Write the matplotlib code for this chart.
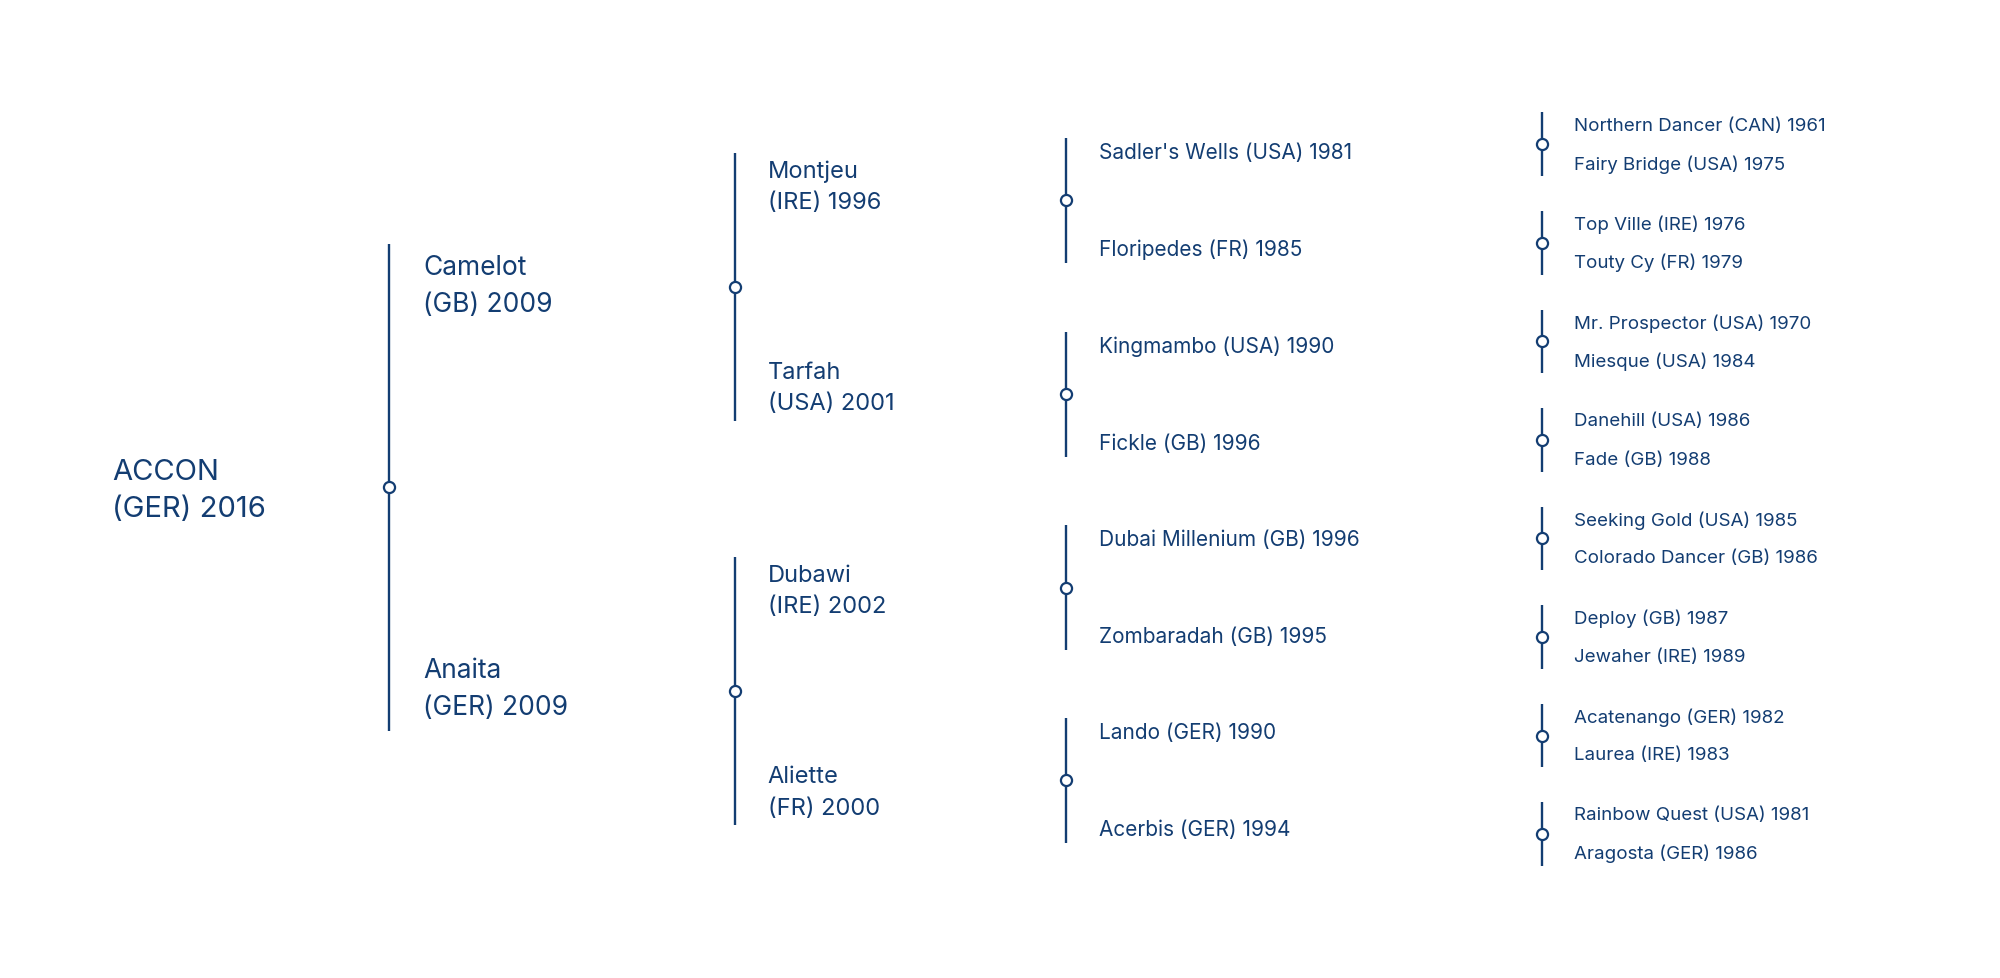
import matplotlib.pyplot as plt

plt.rcParams['font.family'] = ['Inter', 'DejaVu Sans']

NAVY = "#133d72"

# pedigree data, generation by generation
foal = "ACCON\n(GER) 2016"
parents = ["Camelot\n(GB) 2009", "Anaita\n(GER) 2009"]
grandparents = ["Montjeu\n(IRE) 1996", "Tarfah\n(USA) 2001",
                "Dubawi\n(IRE) 2002", "Aliette\n(FR) 2000"]
great_grandparents = ["Sadler's Wells (USA) 1981", "Floripedes (FR) 1985",
                      "Kingmambo (USA) 1990", "Fickle (GB) 1996",
                      "Dubai Millenium (GB) 1996", "Zombaradah (GB) 1995",
                      "Lando (GER) 1990", "Acerbis (GER) 1994"]
great_great_grandparents = ["Northern Dancer (CAN) 1961", "Fairy Bridge (USA) 1975",
                            "Top Ville (IRE) 1976", "Touty Cy (FR) 1979",
                            "Mr. Prospector (USA) 1970", "Miesque (USA) 1984",
                            "Danehill (USA) 1986", "Fade (GB) 1988",
                            "Seeking Gold (USA) 1985", "Colorado Dancer (GB) 1986",
                            "Deploy (GB) 1987", "Jewaher (IRE) 1989",
                            "Acatenango (GER) 1982", "Laurea (IRE) 1983",
                            "Rainbow Quest (USA) 1981", "Aragosta (GER) 1986"]

W, H = 1568, 768
fig = plt.figure(figsize=(20, 9.79), dpi=100)
ax = fig.add_axes([0, 0, 1, 1])
ax.set_xlim(0, W)
ax.set_ylim(H, 0)
ax.axis("off")


def bracket(x, center, half, names, text_x, size, offset):
    ax.plot([x, x], [center - half, center + half], color=NAVY, lw=1.7, solid_capstyle="butt", zorder=1)
    ax.plot([x], [center], "o", ms=8, mfc="white", mec=NAVY, mew=1.6, zorder=2)
    for name, y in zip(names, (center - offset, center + offset)):
        ax.text(text_x, y, name, color=NAVY, fontsize=size, va="center", ha="left",
                linespacing=1.55)


ax.text(88, 385, foal, color=NAVY, fontsize=21, va="center", ha="left", linespacing=1.5)

bracket(305, 383, 191, parents, 332, 19, 158)

for i, c in enumerate([226, 543]):
    bracket(576, c, 105, grandparents[2 * i:2 * i + 2], 602, 17, 79)

for i, c in enumerate([158, 310, 462, 613]):
    bracket(836, c, 49, great_grandparents[2 * i:2 * i + 2], 862, 15, 38)

for i in range(8):
    c = 114 + i * 77.3
    bracket(1209, c, 25, great_great_grandparents[2 * i:2 * i + 2], 1234, 13.5, 15)

fig.savefig("out.png", dpi=100, facecolor="white")
